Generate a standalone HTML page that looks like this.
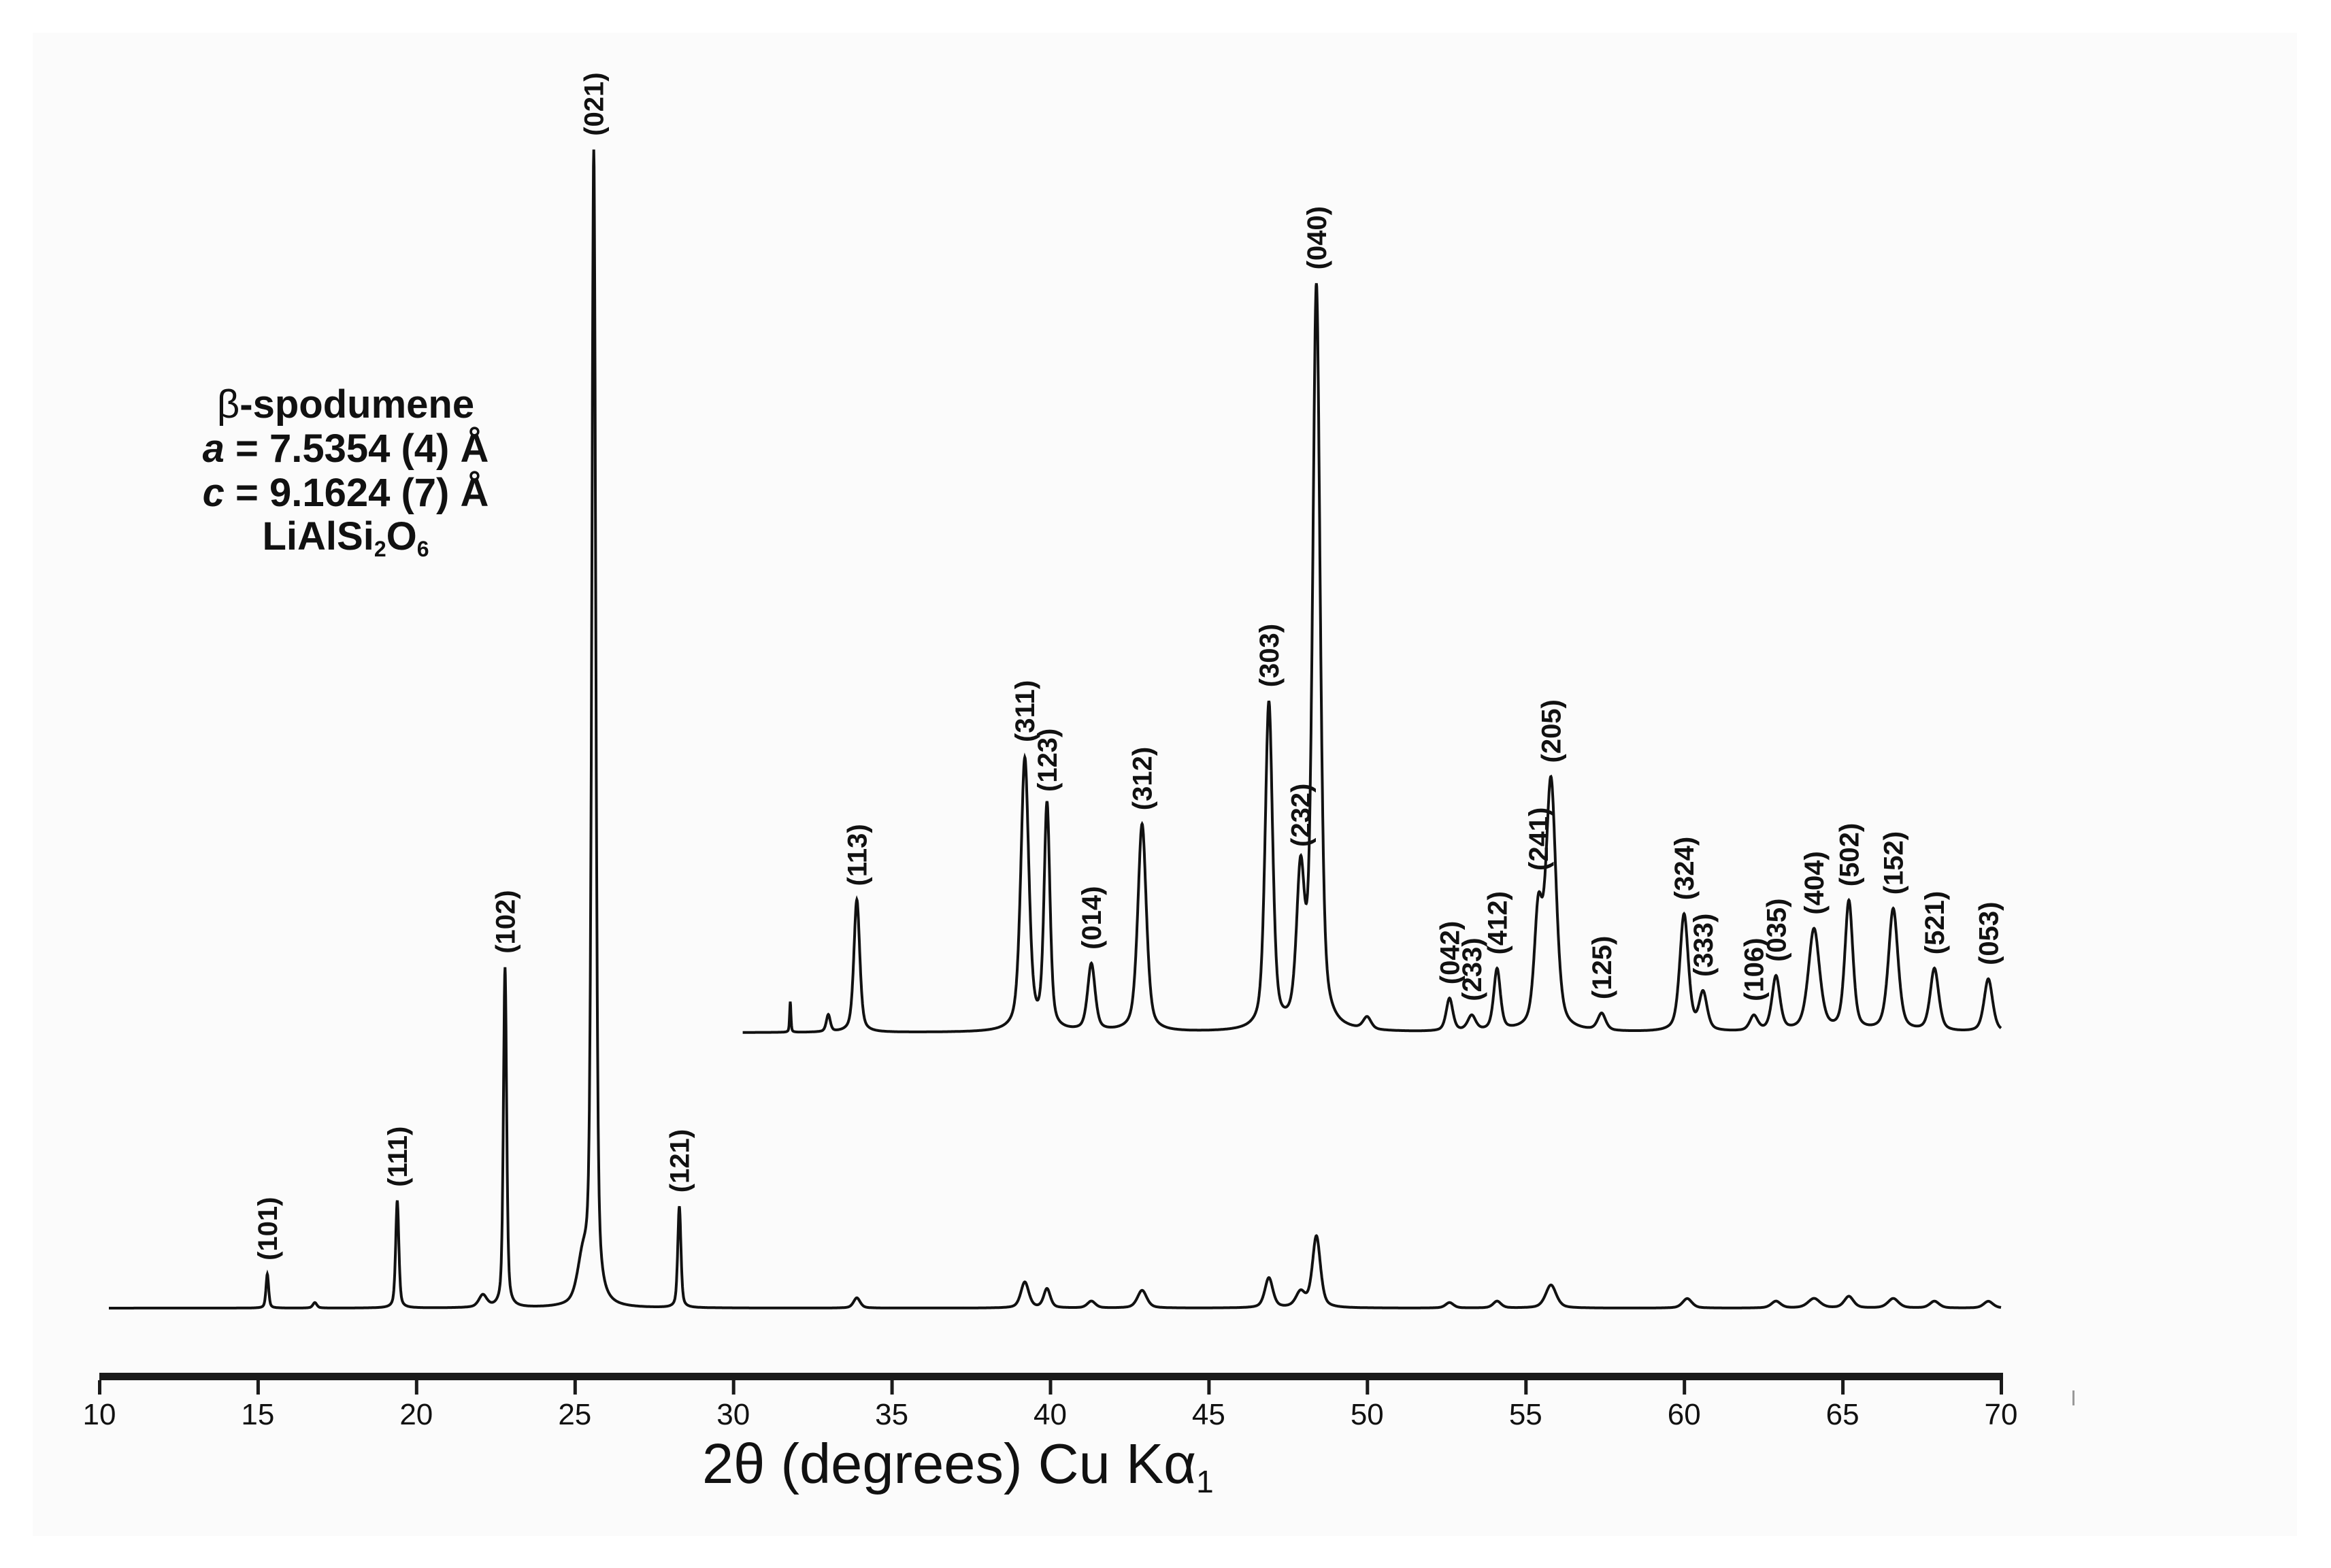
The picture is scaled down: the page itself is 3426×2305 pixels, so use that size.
<!DOCTYPE html>
<html><head><meta charset="utf-8"><style>
html,body{margin:0;padding:0;background:#fff;}
svg{display:block;}
</style></head><body>
<svg id="chart" width="3426" height="2305" viewBox="0 0 3426 2305" xmlns="http://www.w3.org/2000/svg" font-family="'Liberation Sans', sans-serif">
<rect x="48" y="48" width="3328" height="2210" fill="#fbfbfb"/>
<g id="patterns"></g>
<g id="labels"></g>
<g id="axis"></g>
<g font-weight="bold" font-size="58" text-anchor="middle" fill="#111">
<text x="508" y="614"><tspan font-weight="normal">β</tspan>-spodumene</text>
<text x="508" y="679"><tspan font-style="italic">a</tspan> = 7.5354 (4) Å</text>
<text x="508" y="744"><tspan font-style="italic">c</tspan> = 9.1624 (7) Å</text>
<text x="508" y="808">LiAlSi<tspan font-size="32" dy="10">2</tspan><tspan dy="-10">O</tspan><tspan font-size="32" dy="10">6</tspan></text>
</g>
<text x="1032" y="2180" font-size="83" fill="#111">2θ (degrees) Cu Kα<tspan font-size="46" dy="14">1</tspan></text>
<rect x="3046" y="2044" width="3" height="22" fill="#999"/>
</svg>
<script>
// x-axis ticks
const tickValues = [10,15,20,25,30,35,40,45,50,55,60,65,70];
// lower pattern peaks (full range scan)
const lowPos = [15.3,16.8,19.4,22.1,22.8,25.25,25.6,28.3,33.9,39.2,39.9,41.3,42.9,46.9,47.9,48.4,52.6,54.1,55.8,60.1,62.9,64.1,65.2,66.6,67.9,69.6];
const lowInt = [50,8,158,18,500,60,1692,149,15,38,28,10,26,44,22,105,8,10,34,14,10,14,17,14,10,10];
const lowWid = [0.1,0.15,0.12,0.3,0.12,0.4,0.15,0.12,0.25,0.3,0.25,0.3,0.35,0.3,0.35,0.3,0.3,0.3,0.4,0.35,0.35,0.45,0.35,0.4,0.35,0.35];
// upper pattern peaks (enlarged 30-70 scan)
const upPos = [31.8,33.0,33.9,39.2,39.9,41.3,42.9,46.9,47.9,48.4,50.0,52.6,53.3,54.1,55.4,55.8,57.4,60.0,60.6,62.2,62.9,64.1,65.2,66.6,67.9,69.6];
const upInt = [45,25,195,400,330,98,305,480,215,1090,18,48,22,90,160,365,25,172,55,22,80,150,190,180,92,78];
const upWid = [0.05,0.15,0.22,0.3,0.22,0.28,0.32,0.28,0.3,0.28,0.3,0.25,0.3,0.25,0.3,0.38,0.3,0.32,0.3,0.3,0.3,0.42,0.3,0.36,0.32,0.32];
// peak labels
const lowLabels = ["(101)","(111)","(102)","(021)","(121)"];
const lowLabelPos = [15.3,19.4,22.8,25.6,28.3];
const upLabels = ["(113)","(311)","(123)","(014)","(312)","(303)","(232)","(040)","(042)","(233)","(412)","(241)","(205)","(125)","(324)","(333)","(106)","(035)","(404)","(502)","(152)","(521)","(053)"];
const upLabelPos = [33.9,39.2,39.9,41.3,42.9,46.9,47.9,48.4,52.6,53.3,54.1,55.4,55.8,57.4,60.0,60.6,62.2,62.9,64.1,65.2,66.6,67.9,69.6];

const NS='http://www.w3.org/2000/svg';
const X0=146, X1=2941, T0=10, T1=70;
const xs = t => X0 + (t-T0)*(X1-X0)/(T1-T0);
const LOW_BASE=1923, UP_BASE=1518;
const yLow = v => LOW_BASE - v;
const yUp = v => UP_BASE - v;

function profile(t, pos, inten, wid){
  let s=0;
  for(let i=0;i<pos.length;i++){
    const d=(t-pos[i])/(wid[i]/2);
    s += inten[i]*(0.5/(1+d*d) + 0.5*Math.exp(-Math.LN2*d*d));
  }
  return s;
}
function pathFor(tA,tB,pos,inten,wid,ys){
  let d='';
  for(let t=tA;t<=tB+1e-9;t+=0.01){
    d += (d?'L':'M') + xs(t).toFixed(1)+','+ys(profile(t,pos,inten,wid)).toFixed(1);
  }
  return d;
}
const pg=document.getElementById('patterns');
const pl=document.createElementNS(NS,'path');


pl.setAttribute('d', pathFor(10.3,70,lowPos,lowInt,lowWid,yLow));
pl.setAttribute('fill','none');pl.setAttribute('stroke','#111');pl.setAttribute('stroke-width','4');
pg.appendChild(pl);
const pu=document.createElementNS(NS,'path');


pu.setAttribute('d', pathFor(30.3,70,upPos,upInt,upWid,yUp));
pu.setAttribute('fill','none');pu.setAttribute('stroke','#111');pu.setAttribute('stroke-width','4');
pg.appendChild(pu);

const lg=document.getElementById('labels');
function addLabel(txt,t,y){
  const el=document.createElementNS(NS,'text');
  
  
  const x=xs(t)+14;
  el.setAttribute('transform','translate('+x.toFixed(1)+','+y.toFixed(1)+') rotate(-90)');
  el.setAttribute('font-size','40');el.setAttribute('font-weight','bold');el.setAttribute('fill','#111');
  el.textContent=txt;lg.appendChild(el);
}
lowLabels.forEach((l,i)=>{const t=lowLabelPos[i];addLabel(l,t,yLow(profile(t,lowPos,lowInt,lowWid))-20);});
upLabels.forEach((l,i)=>{const t=upLabelPos[i];let y=yUp(profile(t,upPos,upInt,upWid))-20;
  if(l==="(241)")y=1280; if(l==="(232)")y=1245; if(l==="(123)")y=1164; if(l==="(311)")y=1091;
  addLabel(l,t,y);});

const ag=document.getElementById('axis');
const bar=document.createElementNS(NS,'rect');


bar.setAttribute('x',X0);bar.setAttribute('y',2018);bar.setAttribute('width',X1-X0+3);bar.setAttribute('height',11);bar.setAttribute('fill','#1a1a1a');
ag.appendChild(bar);
tickValues.forEach(v=>{
  const tk=document.createElementNS(NS,'rect');
  
  
  tk.setAttribute('x',(xs(v)-2).toFixed(1));tk.setAttribute('y',2029);tk.setAttribute('width',5);tk.setAttribute('height',21);tk.setAttribute('fill','#1a1a1a');
  ag.appendChild(tk);
  const lb=document.createElementNS(NS,'text');
  
  
  lb.setAttribute('x',xs(v).toFixed(1));lb.setAttribute('y',2094);lb.setAttribute('font-size','44');lb.setAttribute('text-anchor','middle');lb.setAttribute('fill','#111');
  lb.textContent=v;ag.appendChild(lb);
});
</script>
</body></html>
